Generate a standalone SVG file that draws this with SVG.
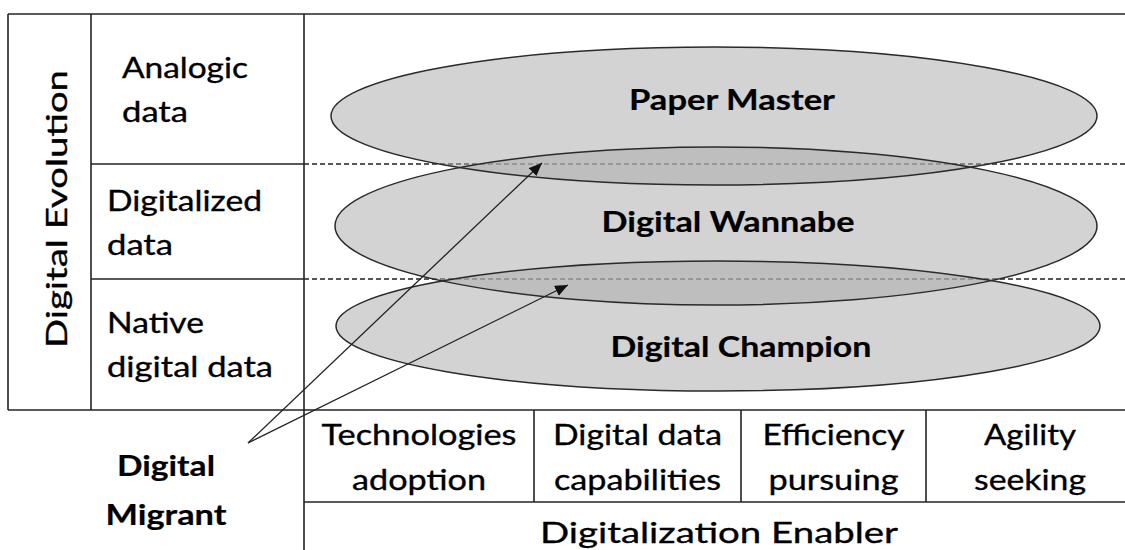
<svg xmlns="http://www.w3.org/2000/svg" xmlns:xlink="http://www.w3.org/1999/xlink" width="1125" height="550" viewBox="0 0 1125 550">
  <style>
    .grid { stroke: #222; stroke-width: 1.6; fill: none; }
    .dash { stroke: #222; stroke-width: 1.4; stroke-dasharray: 5 3; fill: none; }
    .shade { fill: #ababab; fill-opacity: 0.52; stroke: none; }
    .rim { fill: none; stroke: #2a2a2a; stroke-width: 1.5; }
    .txt { font-family: Lato, "Liberation Sans", sans-serif; font-size: 29px; fill: #000; stroke: #000; stroke-width: 0.35; }
    .mid { text-anchor: middle; }
    .bold { font-weight: bold; stroke-width: 0.2; }
    .link { stroke: #222; stroke-width: 1.3; fill: none; marker-end: url(#tip); }
  </style>
  <defs>
    <marker id="tip" markerUnits="userSpaceOnUse" markerWidth="14" markerHeight="12" refX="13" refY="5.5" orient="auto">
      <path d="M0,0 L13,5.5 L0,11 Z" fill="#111"/>
    </marker>
    <ellipse id="e-paper" cx="714" cy="116" rx="383" ry="69"/>
    <ellipse id="e-wannabe" cx="716" cy="226" rx="381" ry="79"/>
    <ellipse id="e-champion" cx="718" cy="326" rx="382" ry="65"/>
  </defs>

  <rect width="1125" height="550" fill="#fff"/>

  <!-- table frame -->
  <g id="frame">
    <line class="grid" x1="8" y1="14" x2="1125" y2="14"/>
    <line class="grid" x1="8" y1="14" x2="8" y2="410"/>
    <line class="grid" x1="91" y1="14" x2="91" y2="410"/>
    <line class="grid" x1="304" y1="14" x2="304" y2="550"/>
    <line class="grid" x1="91" y1="164" x2="304" y2="164"/>
    <line class="grid" x1="91" y1="279" x2="304" y2="279"/>
    <line class="dash" x1="304" y1="164" x2="1125" y2="164"/>
    <line class="dash" x1="304" y1="279" x2="1125" y2="279"/>
    <line class="grid" x1="8" y1="410" x2="1125" y2="410"/>
    <line class="grid" x1="304" y1="502" x2="1125" y2="502"/>
    <line class="grid" x1="534" y1="410" x2="534" y2="502"/>
    <line class="grid" x1="741" y1="410" x2="741" y2="502"/>
    <line class="grid" x1="926" y1="410" x2="926" y2="502"/>
  </g>

  <!-- axis labels -->
  <g id="axis-evolution">
    <text class="txt mid" font-size="39" textLength="278" lengthAdjust="spacingAndGlyphs" transform="translate(67,209) rotate(-90)">Digital Evolution</text>
  </g>
  <g id="row-analogic">
    <text class="txt" x="122" y="78" textLength="126" lengthAdjust="spacingAndGlyphs">Analogic</text>
    <text class="txt" x="122" y="122" textLength="66" lengthAdjust="spacingAndGlyphs">data</text>
  </g>
  <g id="row-digitalized">
    <text class="txt" x="107" y="211" textLength="155" lengthAdjust="spacingAndGlyphs">Digitalized</text>
    <text class="txt" x="107" y="255" textLength="66" lengthAdjust="spacingAndGlyphs">data</text>
  </g>
  <g id="row-native">
    <text class="txt" x="107" y="333" textLength="97" lengthAdjust="spacingAndGlyphs">Native</text>
    <text class="txt" x="107" y="377" textLength="166" lengthAdjust="spacingAndGlyphs">digital data</text>
  </g>

  <!-- translucent layer fills -->
  <g id="layer-fills">
    <use xlink:href="#e-paper" class="shade"/>
    <use xlink:href="#e-wannabe" class="shade"/>
    <use xlink:href="#e-champion" class="shade"/>
  </g>

  <!-- maturity levels -->
  <g id="paper-master">
    <use xlink:href="#e-paper" class="rim"/>
    <text class="txt mid bold" x="732" y="110" font-size="28" textLength="206" lengthAdjust="spacingAndGlyphs">Paper Master</text>
  </g>
  <g id="digital-wannabe">
    <use xlink:href="#e-wannabe" class="rim"/>
    <text class="txt mid bold" x="728" y="232" font-size="28" textLength="253" lengthAdjust="spacingAndGlyphs">Digital Wannabe</text>
  </g>
  <g id="digital-champion">
    <use xlink:href="#e-champion" class="rim"/>
    <text class="txt mid bold" x="741" y="357" font-size="28" textLength="261" lengthAdjust="spacingAndGlyphs">Digital Champion</text>
  </g>

  <g id="digital-migrant">
    <text class="txt mid bold" x="166" y="476" font-size="31" textLength="98" lengthAdjust="spacingAndGlyphs">Digital</text>
    <text class="txt mid bold" x="166" y="525" font-size="31" textLength="121" lengthAdjust="spacingAndGlyphs">Migrant</text>
  </g>

  <!-- enabler columns -->
  <g id="col-technologies">
    <text class="txt mid" x="419" y="445" textLength="195" lengthAdjust="spacingAndGlyphs">Technologies</text>
    <text class="txt mid" x="419" y="490" textLength="134" lengthAdjust="spacingAndGlyphs">adoption</text>
  </g>
  <g id="col-capabilities">
    <text class="txt mid" x="637.5" y="445" textLength="169" lengthAdjust="spacingAndGlyphs">Digital data</text>
    <text class="txt mid" x="637.5" y="490" textLength="167" lengthAdjust="spacingAndGlyphs">capabilities</text>
  </g>
  <g id="col-efficiency">
    <text class="txt mid" x="833.5" y="445" textLength="142" lengthAdjust="spacingAndGlyphs">Efficiency</text>
    <text class="txt mid" x="833.5" y="490" textLength="130" lengthAdjust="spacingAndGlyphs">pursuing</text>
  </g>
  <g id="col-agility">
    <text class="txt mid" x="1030" y="445" textLength="92" lengthAdjust="spacingAndGlyphs">Agility</text>
    <text class="txt mid" x="1030" y="490" textLength="112" lengthAdjust="spacingAndGlyphs">seeking</text>
  </g>
  <g id="axis-enabler">
    <text class="txt mid" x="719" y="543" font-size="34" textLength="358" lengthAdjust="spacingAndGlyphs">Digitalization Enabler</text>
  </g>

  <!-- migration arrows -->
  <g id="connectors">
    <line class="link" x1="248" y1="443" x2="542" y2="163"/>
    <line class="link" x1="248" y1="443" x2="568" y2="285"/>
  </g>
</svg>
